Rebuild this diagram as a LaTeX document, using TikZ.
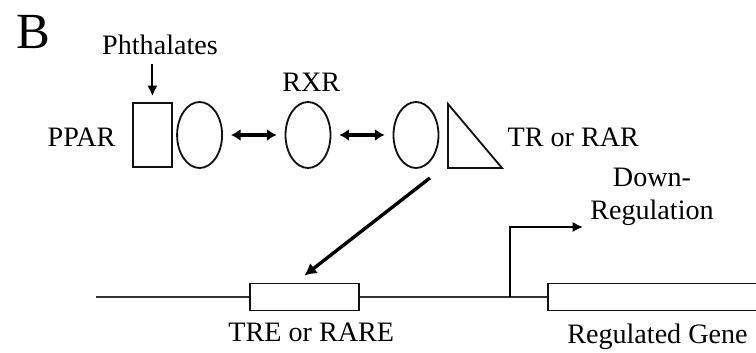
\documentclass[tikz,border=0pt]{standalone}
\usepackage{fontspec}
\setmainfont{Liberation Serif}
\usetikzlibrary{arrows.meta, positioning, calc, shapes.geometric}
\definecolor{darkline}{HTML}{111111}
\definecolor{dnaline}{HTML}{333333}
\tikzset{
  label/.style={font=\fontsize{20}{23.5}\selectfont, text=black, inner sep=0pt},
  panel/.style={font=\fontsize{36}{42}\selectfont, text=black, inner sep=0pt},
  receptor/.style={ellipse, draw=darkline, line width=1.3pt, minimum width=1.125cm,
                   minimum height=1.65cm, inner sep=0pt},
  ligandbox/.style={rectangle, draw=darkline, line width=1.3pt, minimum width=0.975cm,
                    minimum height=1.6cm, inner sep=0pt},
  element/.style={rectangle, draw=darkline, line width=1.3pt, minimum height=0.675cm,
                  inner sep=0pt, fill=white},
  dimer/.style={{Latex[length=2.4mm,width=3mm]}-{Latex[length=2.4mm,width=3mm]},
                line width=2.6pt, draw=black, shorten <=0.2cm, shorten >=0.2cm},
  bind/.style={-{Latex[length=3mm,width=3.2mm]}, line width=2.4pt, draw=black},
  expose/.style={-{Latex[length=2.6mm,width=2.6mm]}, line width=1.5pt, draw=black},
  dna/.style={line width=1.3pt, draw=dnaline},
}

\begin{document}
\begin{tikzpicture}
\clip (0,0) rectangle (18.9,8.8);

% Panel letter
\node[panel] (panelB) at (0.825,8.0) {B};

% Receptors
\node[ligandbox] (ppar) at (3.81,5.425) {};
\node[receptor] (rxra) at (4.99,5.425) {};
\node[receptor] (rxrb) at (7.70,5.425) {};
\node[receptor] (rxrc) at (10.40,5.425) {};
\coordinate (tra) at (11.2,6.2);
\coordinate (trb) at (11.2,4.6);
\coordinate (trc) at (12.55,4.6);
\draw[darkline, line width=1.3pt] (tra) -- (trb) -- (trc) -- cycle;

% Receptor labels
\node[label, anchor=base] (phth) at (4.0,7.425) {Phthalates};
\node[label, anchor=base] (pparlbl) at (2.04,5.125) {PPAR};
\node[label, anchor=base] (rxrlbl) at (7.78,6.5) {RXR};
\node[label, anchor=base] (trlbl) at (14.33,5.125) {TR or RAR};

% Ligand and dimer partners
\draw[expose] (phth.south -| ppar.north) ++(0,-0.2) -- ([yshift=0.15cm]ppar.north);
\draw[dimer] (rxra.east) -- (rxrb.west);
\draw[dimer] (rxrb.east) -- (rxrc.west);

% DNA with response element and gene
\coordinate (dnastart) at (2.4,1.375);
\coordinate (dnaend) at (19.5,1.375);
\draw[dna] (dnastart) -- (dnaend);
\node[element, minimum width=2.725cm] (tre) at (7.61,1.375) {};
\node[element, minimum width=6cm, anchor=west] (gene) at (13.675,1.375) {};
\node[label, anchor=base] (trelbl) at (7.78,0.25) {TRE or RARE};
\node[label, anchor=base west] (genelbl) at (14.175,0.225) {Regulated Gene};

% Binding to the response element
\draw[bind] ($(rxrc.south)+(0.35,-0.225)$) -- ([yshift=0.175cm]tre.north);

% Transcription start
\coordinate (tss) at (12.75,1.375);
\coordinate (tssend) at (14.575,3.125);
\draw[expose] (tss) |- (tssend);
\node[label, align=center, anchor=base] (downlbl) at (16.3,3.3) {Down-\\Regulation};

\end{tikzpicture}
\end{document}
